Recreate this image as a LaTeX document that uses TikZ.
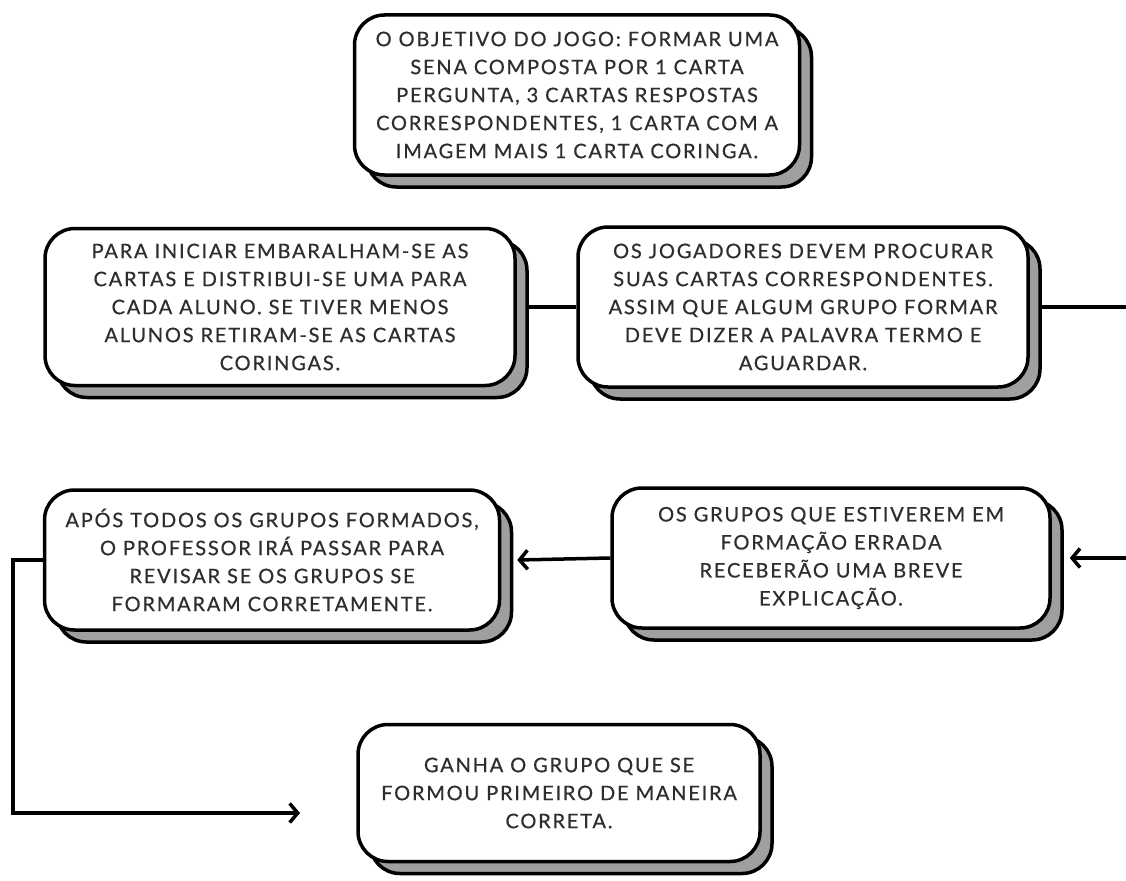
\documentclass[tikz,border=0pt]{standalone}
\usepackage{fontspec}
\setmainfont{Lato}[LetterSpace=9, FakeBold=0.6]
\usetikzlibrary{shadows,arrows.meta}

\tikzset{
  card/.style={draw, line width=3.5pt, fill=white, rounded corners=30pt, align=center,
    font=\fontsize{20}{28}\selectfont, text=black!82,
    drop shadow={shadow xshift=12pt, shadow yshift=-12pt, fill=gray!75, draw=black,
      line width=3.5pt, opacity=1}},
  link/.style={line width=3.5pt},
  seta/.style={line width=3.5pt, -{Straight Barb[length=8pt,width=19pt]}}
}

\begin{document}
\begin{tikzpicture}[x=1pt, y=-1pt]
\useasboundingbox (0,0) rectangle (1126,880);

% cartas
\node[card, minimum width=445pt, minimum height=160pt] (objetivo) at (577,95)
  {O OBJETIVO DO JOGO: FORMAR UMA\\ SENA COMPOSTA POR 1 CARTA\\ PERGUNTA, 3 CARTAS RESPOSTAS\\ CORRESPONDENTES, 1 CARTA COM A\\ IMAGEM MAIS 1 CARTA CORINGA.};
\node[card, minimum width=470pt, minimum height=157pt] (iniciar) at (280,307)
  {PARA INICIAR EMBARALHAM-SE AS\\ CARTAS E DISTRIBUI-SE UMA PARA\\ CADA ALUNO. SE TIVER MENOS\\ ALUNOS RETIRAM-SE AS CARTAS\\ CORINGAS.};
\node[card, minimum width=450pt, minimum height=160pt] (procurar) at (803,307)
  {OS JOGADORES DEVEM PROCURAR\\ SUAS CARTAS CORRESPONDENTES.\\ ASSIM QUE ALGUM GRUPO FORMAR\\ DEVE DIZER A PALAVRA TERMO E\\ AGUARDAR.};
\node[card, minimum width=455pt, minimum height=140pt] (revisar) at (272,560)
  {APÓS TODOS OS GRUPOS FORMADOS,\\ O PROFESSOR IRÁ PASSAR PARA\\ REVISAR SE OS GRUPOS SE\\ FORMARAM CORRETAMENTE.};
\node[card, minimum width=438pt, minimum height=140pt] (errada) at (831,558)
  {OS GRUPOS QUE ESTIVEREM EM\\ FORMAÇÃO ERRADA\\ RECEBERÃO UMA BREVE\\ EXPLICAÇÃO.};
\node[card, minimum width=402pt, minimum height=137pt] (ganha) at (559,793)
  {GANHA O GRUPO QUE SE\\ FORMOU PRIMEIRO DE MANEIRA\\ CORRETA.};

% ligacoes
\coordinate (dobra) at (1140,307);
\coordinate (chegada) at (300,813);
\draw[link] ([xshift=12pt]iniciar.east) -- (procurar.west);
\draw[seta] ([xshift=12pt]procurar.east) -- (dobra) |- ([xshift=18pt]errada.east);
\draw[seta] (errada.west) -- ([xshift=16pt]revisar.east);
\draw[seta] (revisar.west) -- ++(-30,0) |- (chegada);
\end{tikzpicture}
\end{document}
